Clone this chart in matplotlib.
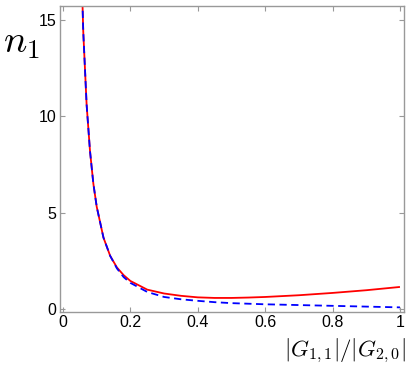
import matplotlib
matplotlib.use("Agg")
import matplotlib.pyplot as plt

x_vals = [0.05, 0.06, 0.07, 0.08, 0.09, 0.10, 0.12, 0.14, 0.16, 0.18, 0.20, 0.25,
          0.30, 0.35, 0.40, 0.45, 0.50, 0.55, 0.60, 0.70, 0.80, 0.90, 1.00]
red_vals = [20.8, 14.4, 10.6, 8.2, 6.5, 5.3, 3.7, 2.75, 2.15, 1.75, 1.45, 1.0,
            0.80, 0.68, 0.60, 0.57, 0.57, 0.59, 0.62, 0.71, 0.83, 0.97, 1.14]
blue_vals = [20.8, 14.4, 10.6, 8.2, 6.5, 5.3, 3.7, 2.75, 2.1, 1.65, 1.35, 0.88,
             0.62, 0.50, 0.42, 0.35, 0.30, 0.27, 0.24, 0.20, 0.16, 0.12, 0.08]
x_ticks = [0, 0.2, 0.4, 0.6, 0.8, 1]
x_tick_labels = ["0", "0.2", "0.4", "0.6", "0.8", "1"]
y_ticks = [0, 5, 10, 15]
y_tick_labels = ["0", "5", "10", "15"]

plt.rcParams['mathtext.fontset'] = 'cm'
fig = plt.figure(figsize=(4.11, 3.70), dpi=100)
ax = fig.add_axes([60/411, 1 - 312/370, (404-60)/411, (312-6)/370])

ax.plot(x_vals, red_vals, color=(1, 0, 0), lw=1.3, solid_capstyle='butt')
ax.plot(x_vals, blue_vals, color=(0, 0, 1), lw=1.3, ls=(0, (4, 2.5)))

ax.set_xlim(-0.009, 1.012)
ax.set_ylim(-0.16, 15.72)
ax.set_xticks(x_ticks)
ax.set_xticklabels(x_tick_labels)
ax.set_yticks(y_ticks)
ax.set_yticklabels(y_tick_labels)

gray = (0.6, 0.6, 0.6)
for s in ax.spines.values():
    s.set_color(gray)
    s.set_linewidth(1.0)
ax.tick_params(direction='in', length=3.5, width=0.8, color=gray,
               top=True, right=True, labelsize=11.5, labelcolor='black', pad=2.5)
for lab in ax.get_xticklabels() + ax.get_yticklabels():
    lab.set_fontfamily('Liberation Sans')

fig.text(3/411, 1 - 42/370, r'$n_1$', fontsize=28, va='center', ha='left')
fig.text(406/411, 1 - 351/370, r'$|G_{1,1}|/|G_{2,0}|$', fontsize=16.5,
         va='center', ha='right')

fig.savefig("out.png", dpi=100)
